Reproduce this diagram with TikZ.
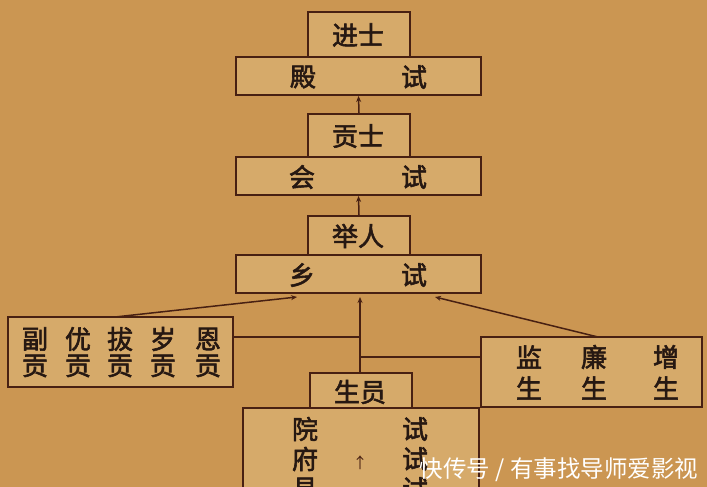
\documentclass[tikz,border=0pt]{standalone}
\usepackage{fontspec}
\newfontfamily\cjk[FakeBold=2.2]{Noto Sans CJK SC}
\newfontfamily\cjkwm{Noto Sans CJK SC}
\usetikzlibrary{arrows.meta}
\definecolor{bgc}{RGB}{203,150,82}
\definecolor{boxc}{RGB}{214,170,106}
\definecolor{linec}{RGB}{72,32,18}
\definecolor{txtc}{RGB}{38,24,18}
\tikzset{
  box/.style={draw=linec, fill=boxc, line width=2pt, inner sep=0pt, rectangle},
  ch/.style={font=\cjk\fontsize{26}{26}\selectfont, text=txtc, inner sep=0pt},
  conn/.style={draw=linec, line width=1.5pt},
  arr/.style={conn, -{Stealth[length=6pt,width=5pt]}},
  wm/.style={font=\cjkwm\fontsize{23.5}{23.5}\selectfont, text=white, inner sep=0pt}
}
\begin{document}
\begin{tikzpicture}[x=1pt,y=-1pt]
\useasboundingbox (0,0) rectangle (707,487);
\fill[bgc] (0,0) rectangle (707,487);
\clip (0,0) rectangle (707,487);
% top level
\node[box, minimum width=102, minimum height=45] (jinshi) at (359,34.5) {};
\node[box, minimum width=245, minimum height=38] (dianshi) at (358.5,76) {};
\node[ch] (t1) at (358,35) {进士};
\node[ch] (t2) at (303,77) {殿};
\node[ch] (t3) at (414,77) {试};
% second level
\node[box, minimum width=102, minimum height=43] (gongshi) at (359,135.5) {};
\node[box, minimum width=245, minimum height=38] (huishi) at (358.5,176) {};
\node[ch] (t4) at (358,136) {贡士};
\node[ch] (t5) at (302,177) {会};
\node[ch] (t6) at (414,177) {试};
% third level
\node[box, minimum width=102, minimum height=39] (juren) at (359,235.5) {};
\node[box, minimum width=245, minimum height=38] (xiangshi) at (358.5,274) {};
\node[ch] (t7) at (358,236) {举人};
\node[ch] (t8) at (302,275) {乡};
\node[ch] (t9) at (414,275) {试};
% arrows between levels
\draw[arr] (gongshi.north) -- (dianshi.south);
\draw[arr] (juren.north) -- (huishi.south);
% left box
\node[box, minimum width=225, minimum height=70] (gong) at (120.5,352) {};
\foreach \x/\a [count=\i] in {35/副,78/优,120/拔,163/岁,208/恩}{
  \node[ch] (g\i) at (\x,339) {\a};
  \node[ch] (h\i) at (\x,366) {贡};
}
% right box
\node[box, minimum width=221, minimum height=70] (sheng) at (591.5,372) {};
\node[ch] (s1) at (529,357) {监};
\node[ch] (s2) at (594,357) {廉};
\node[ch] (s3) at (666,357) {增};
\node[ch] (s4) at (529,388) {生};
\node[ch] (s5) at (594,388) {生};
\node[ch] (s6) at (666,388) {生};
% shengyuan
\node[box, minimum width=236, minimum height=100] (yuanshi) at (361,458) {};
\node[box, minimum width=102, minimum height=35] (shengyuan) at (361,390.5) {};
\node[ch] (t10) at (360,392) {生员};
\node[ch] (y1) at (305,429) {院};
\node[ch] (y2) at (305,459) {府};
\node[ch] (y3) at (305,489) {县};
\node[ch] (y4) at (415,429) {试};
\node[ch] (y5) at (415,459) {试};
\node[ch] (y6) at (415,489) {试};
\node[font=\cjkwm\fontsize{15}{15}\selectfont, text=linec, inner sep=0pt] (up) at (360,463) {↑};
% connectors to xiangshi
\coordinate (la) at (297,297);
\coordinate (ma) at (360,297);
\coordinate (ra) at (435,297);
\coordinate (lb) at (115,317);
\coordinate (rb) at (598,337);
\coordinate (j1) at (360,337);
\coordinate (j2) at (360,357);
\draw[arr] (lb) -- (la);
\draw[arr] (rb) -- (ra);
\draw[arr] (shengyuan.north -| ma) -- (ma);
\draw[conn] (gong.east |- j1) -- (j1);
\draw[conn] (j2) -- (sheng.west |- j2);
% watermark
\node[wm] (wmk) at (559,470) {快传号 / 有事找导师爱影视};
\end{tikzpicture}
\end{document}
